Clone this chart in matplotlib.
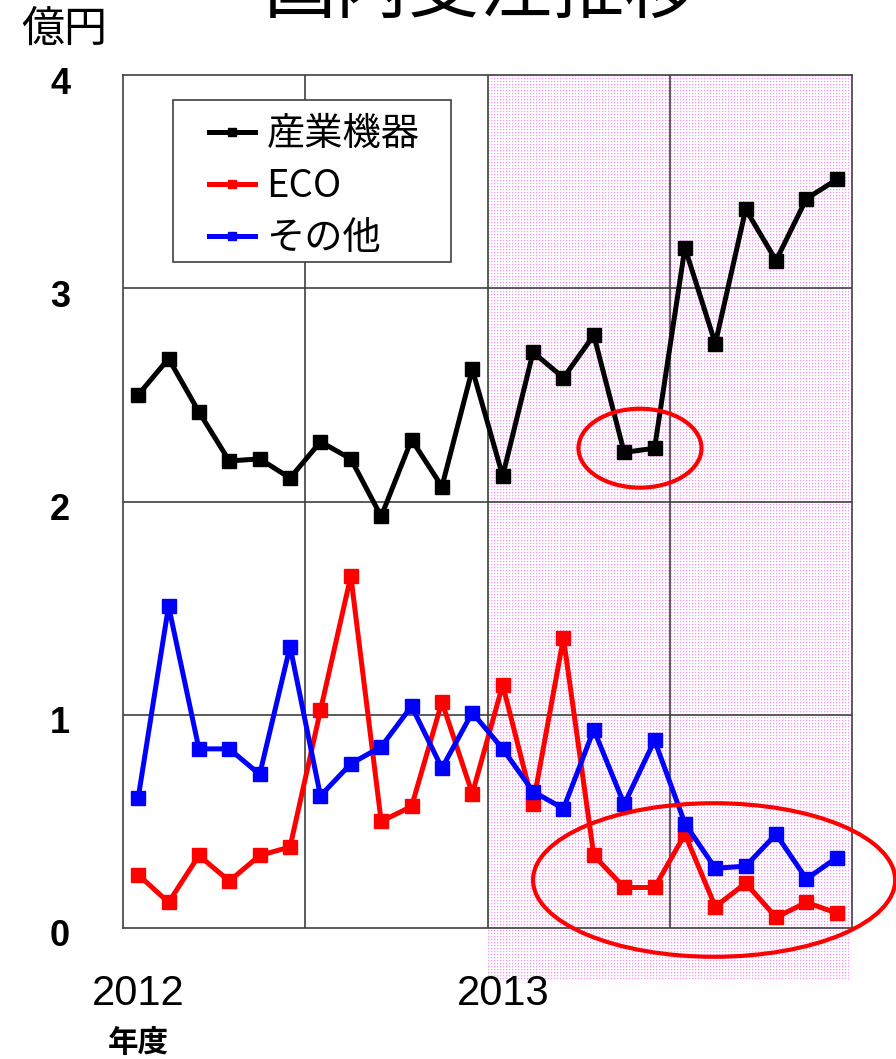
import numpy as np
import matplotlib
matplotlib.use("Agg")
import matplotlib.pyplot as plt
from matplotlib.patches import Ellipse, Rectangle
from matplotlib.transforms import blended_transform_factory, ScaledTranslation

plt.rcParams['font.family'] = ['Noto Sans CJK JP', 'DejaVu Sans']

# monthly orders, fiscal 2012-04 .. 2014-03 (100M yen)
months = [f"{y}-{m:02d}" for y, m in
          [(2012, m) for m in range(4, 13)] + [(2013, m) for m in range(1, 13)] + [(2014, m) for m in range(1, 4)]]
industrial = [2.50, 2.67, 2.42, 2.19, 2.20, 2.11, 2.28, 2.20, 1.93, 2.29, 2.07, 2.62,
              2.12, 2.70, 2.58, 2.78, 2.23, 2.25, 3.19, 2.74, 3.37, 3.13, 3.42, 3.51]
eco = [0.25, 0.12, 0.34, 0.22, 0.34, 0.38, 1.02, 1.65, 0.50, 0.57, 1.06, 0.63,
       1.14, 0.58, 1.36, 0.34, 0.19, 0.19, 0.44, 0.10, 0.21, 0.05, 0.12, 0.07]
other = [0.61, 1.51, 0.84, 0.84, 0.72, 1.32, 0.62, 0.77, 0.85, 1.04, 0.75, 1.01,
         0.84, 0.64, 0.56, 0.93, 0.58, 0.88, 0.49, 0.28, 0.29, 0.44, 0.23, 0.33]
series_names = ["産業機器", "ECO", "その他"]
year_labels = ["2012", "2013"]
yticks = [0, 1, 2, 3, 4]

W, H = 896, 1059
fig = plt.figure(figsize=(W / 100, H / 100), dpi=100)
ax = fig.add_axes([123 / W, 1 - 928 / H, 729 / W, 853 / H])
ax.set_xlim(0, len(months))
ax.set_ylim(0, 4)
ax.patch.set_alpha(0)
ax.set_zorder(2)

x = [i + 0.5 for i in range(len(months))]
grid_c = "#404040"

# dotted pink background for the second fiscal year, drawn pixel by pixel
(px0, py0), (px1, py1) = ax.transData.transform([(12, -0.25), (23.9, 4)])
px0, py0, px1, py1 = int(round(px0)), int(round(py0)), int(round(px1)), int(round(py1))
tex = np.ones((py1 - py0, px1 - px0, 3))
tex[0::3, 0::3] = (0.98, 0.58, 0.98)
tex[0::3, 1::3] = (0.995, 0.87, 0.995)
tex[1::3, 0::3] = (0.995, 0.87, 0.995)
fig.figimage(tex, xo=px0, yo=py0, zorder=0)

for v in [1, 2, 3]:
    ax.axhline(v, color=grid_c, lw=1.2, zorder=1)
for v in [6, 12, 18]:
    ax.axvline(v, color=grid_c, lw=1.2, zorder=1)
for s in ax.spines.values():
    s.set_color(grid_c)
    s.set_linewidth(1.2)

style = dict(marker="s", markersize=9.5, lw=3.6, zorder=3)
ax.plot(x, industrial, color="black", label=series_names[0], **style)
ax.plot(x, eco, color="#ff0000", label=series_names[1], **style)
ax.plot(x, other, color="#0000ff", label=series_names[2], **style)

ax.set_xticks([])
ax.set_yticks(yticks)
ax.set_yticklabels([str(t) for t in yticks], family="Liberation Sans", fontweight="bold", fontsize=26)
ax.tick_params(axis="y", length=0, pad=38)
shift = ScaledTranslation(0, -0.05, fig.dpi_scale_trans)
for lab in ax.get_yticklabels():
    lab.set_transform(lab.get_transform() + shift)

trans = blended_transform_factory(ax.transData, fig.transFigure)
for lab, xi in zip(year_labels, [0.5, 12.5]):
    ax.text(xi, 1 - 994 / H, lab, transform=trans, ha="center", va="center",
            family="Liberation Sans", fontsize=30)
fig.text(138 / W, 1 - 1043 / H, "年度", ha="center", va="center", fontsize=22, fontweight="bold")
fig.text(64 / W, 1 - 30 / H, "億円", ha="center", va="center", fontsize=31)
fig.text(481 / W, 1 - 13 / H, "国内受注推移", ha="center", va="baseline", fontsize=52)

# callouts
ax.add_patch(Ellipse((17.02, 2.25), 4.05, 0.37, fill=False, edgecolor="#ff0000", lw=3,
                     zorder=4, clip_on=False))
ax.add_patch(Ellipse((19.46, 0.225), 11.92, 0.72, fill=False, edgecolor="#ff0000", lw=3,
                     zorder=4, clip_on=False))

# legend box and entries
ax.add_patch(Rectangle((173 / W, 1 - 262 / H), 278 / W, 162 / H, transform=fig.transFigure,
                       facecolor="white", edgecolor=grid_c, lw=1.2, zorder=5, clip_on=False))
leg = ax.legend(loc="upper left", bbox_to_anchor=(209 / W, 1 - 115 / H),
                bbox_transform=fig.transFigure, borderaxespad=0, frameon=False,
                fontsize=27.5, handlelength=1.2, handletextpad=0.3, labelspacing=0.34,
                borderpad=0, markerscale=0.6)
leg.set_zorder(6)

fig.savefig("out.png", dpi=100)
